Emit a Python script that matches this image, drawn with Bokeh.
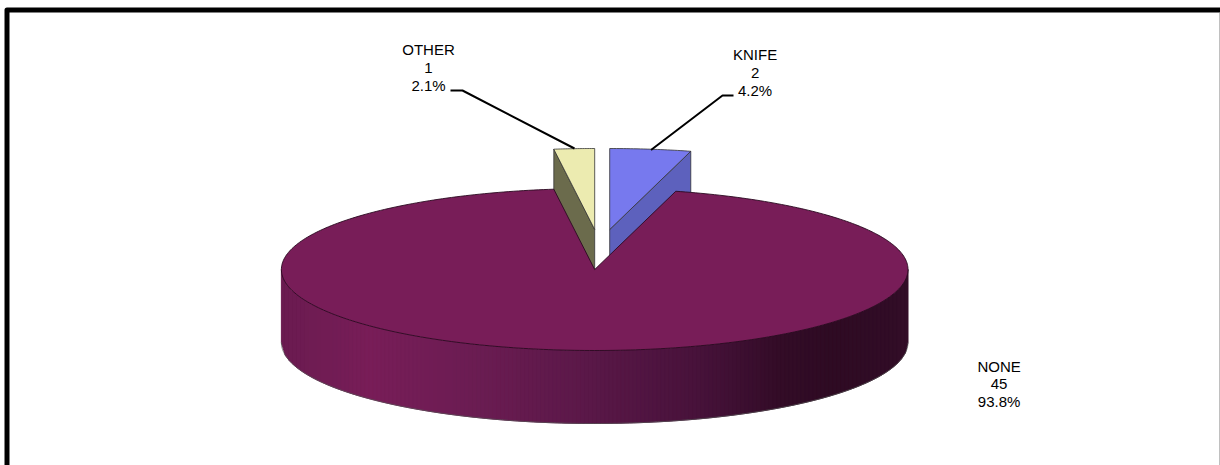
import math

from bokeh.core.properties import value
from bokeh.embed import file_html
from bokeh.models import Range1d
from bokeh.plotting import figure
from bokeh.resources import INLINE

# Weapon counts, with the percentages printed on the labels
categories = ["KNIFE", "NONE", "OTHER"]
counts = [2, 45, 1]
percents = ["4.2%", "93.8%", "2.1%"]

top_colors = ["#7779EE", "#781D58", "#ECEBB0"]
cut_colors = ["#5D61BD", None, "#6B6B4C"]

# Projected disc geometry, in page pixels
CX, CY = 594.2, 269.0
RX, RY = 313.3, 81.0
DEPTH = 73.0
EXPLODE = {"KNIFE": (15.0, -40.0), "OTHER": (0.0, -40.0), "NONE": (0.0, 0.0)}

label_pos = {"KNIFE": (754.6, 54.4), "NONE": (998.6, 365.6), "OTHER": (428, 49.4)}
LINE_STEP = 17.6

# Leader lines run from the label to the rim of the slice
leaders = {
    "KNIFE": ([733, 722, 650.5], [95, 95, 149.5]),
    "OTHER": ([450, 462, 574], [90, 90, 148]),
}

# Shading of the outer wall from left to right
wall_stops = [
    (281, "#6A1B50"), (370, "#781D58"), (480, "#6A1C52"), (590, "#5A1848"),
    (700, "#47123A"), (780, "#330C27"), (830, "#2E0B23"), (908, "#320D27"),
]


def rim(deg, cx, cy):
    """Point on the projected rim, degrees clockwise from twelve o'clock."""
    a = math.radians(deg)
    return cx + RX * math.sin(a), cy - RY * math.cos(a)


def wall_color(x):
    for (x0, c0), (x1, c1) in zip(wall_stops, wall_stops[1:]):
        if x <= x1:
            t = max(0.0, (x - x0) / (x1 - x0))
            rgb0 = [int(c0[i:i + 2], 16) for i in (1, 3, 5)]
            rgb1 = [int(c1[i:i + 2], 16) for i in (1, 3, 5)]
            return "#%02X%02X%02X" % tuple(round(a + (b - a) * t) for a, b in zip(rgb0, rgb1))
    return wall_stops[-1][1]


p = figure(
    width=1220, height=465, output_backend="svg", toolbar_location=None,
    x_range=Range1d(0, 1220), y_range=Range1d(465, 0),
    min_border=0, outline_line_color=None, background_fill_color="white",
)
p.axis.visible = False
p.grid.visible = False

# Slice spans, clockwise: KNIFE starts at twelve o'clock, NONE and OTHER follow
total = sum(counts)
spans = {}
start = 0.0
for name, n in zip(categories, counts):
    spans[name] = (start, start + n / total * 360.0)
    start += n / total * 360.0

# Exploded slices: cut faces go first so the large slice covers their lower part
for name, top, cut in zip(categories, top_colors, cut_colors):
    if name == "NONE":
        continue
    a0, a1 = spans[name]
    ax, ay = CX + EXPLODE[name][0], CY + EXPLODE[name][1]
    edge_deg = a1 if name == "KNIFE" else a0
    ex, ey = rim(edge_deg, ax, ay)
    p.patch([ax, ex, ex, ax], [ay, ey, ey + DEPTH, ay + DEPTH],
            fill_color=cut, line_color="#333333", line_width=0.8)
    steps = [a0 + (a1 - a0) * i / 24 for i in range(25)]
    pts = [rim(d, ax, ay) for d in steps]
    p.patch([ax] + [q[0] for q in pts], [ay] + [q[1] for q in pts],
            fill_color=top, line_color="#333333", line_width=0.8)

# Outer wall of the large slice, as narrow shaded strips
xs, ys, colors = [], [], []
x = CX - RX
while x < CX + RX:
    x1 = min(x + 4.0, CX + RX)
    y0 = CY + RY * math.sqrt(max(0.0, 1 - ((x - CX) / RX) ** 2))
    y1 = CY + RY * math.sqrt(max(0.0, 1 - ((x1 - CX) / RX) ** 2))
    xs.append([x, x1, x1, x])
    ys.append([y0, y1, y1 + DEPTH, y0 + DEPTH])
    colors.append(wall_color((x + x1) / 2))
    x = x1
p.patches(xs, ys, fill_color=colors, line_color=colors, line_width=1)

# Thin shadow line under the wall
deg = [90 + 180 * i / 180 for i in range(181)]
bottom = [rim(d, CX, CY + DEPTH) for d in deg]
p.line([q[0] for q in bottom], [q[1] for q in bottom], line_color="#555555", line_width=0.7)

# Top face of the large slice
a0, a1 = spans["NONE"]
steps = [a0 + (a1 - a0) * i / 360 for i in range(361)]
pts = [rim(d, CX, CY) for d in steps]
p.patch([CX] + [q[0] for q in pts], [CY] + [q[1] for q in pts],
        fill_color=top_colors[1], line_color="#2A0A20", line_width=0.9)

# Leader lines
for name, (lx, ly) in leaders.items():
    p.line(lx, ly, line_color="black", line_width=2)

# Three-line labels: name, count, percentage
tx, ty, tt = [], [], []
for name, n, pct in zip(categories, counts, percents):
    x0, y0 = label_pos[name]
    for i, s in enumerate([name, str(n), pct]):
        tx.append(x0)
        ty.append(y0 + i * LINE_STEP)
        tt.append(s)
p.text(tx, ty, text=tt, text_font=value("Liberation Sans"), text_font_size="15px",
       text_color="black", text_align="center", text_baseline="middle")

# Frame round the chart area
p.line([6.5, 6.5, 1230], [480, 9.5, 9.5], line_color="black", line_width=5, line_join="round")
p.line([1219.5, 1219.5], [12, 465], line_color="#808080", line_width=1)

open("out.html", "w").write(file_html(p, INLINE))
